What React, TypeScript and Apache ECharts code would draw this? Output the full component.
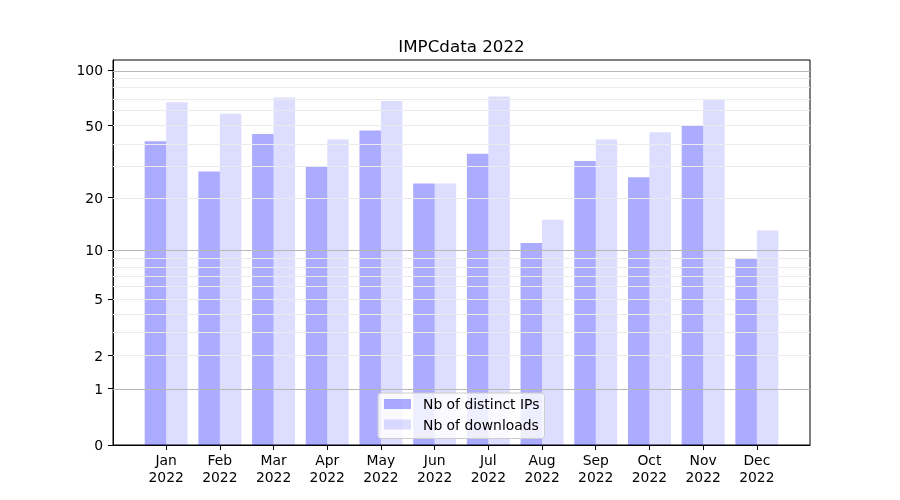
import React, { useEffect, useRef } from "react";
import * as echarts from "echarts";

const months = ["Jan", "Feb", "Mar", "Apr", "May", "Jun", "Jul", "Aug", "Sep", "Oct", "Nov", "Dec"];
const yearLabel = "2022";
const distinctIPs = [41, 28, 45, 30, 47, 24, 35, 11, 32, 26, 50, 9];
const downloads = [67, 58, 71, 42, 68, 24, 72, 15, 42, 46, 69, 13];
const yTickLabels = [0, 1, 2, 5, 10, 20, 50, 100];
const majorGrid = [1, 10, 100];
const minorGrid = [2, 3, 4, 5, 6, 7, 8, 9, 20, 30, 40, 50, 60, 70, 80, 90];
const titleText = "IMPCdata 2022";
const seriesNames = ["Nb of distinct IPs", "Nb of downloads"];

const tr = (v: number) => Math.log10(v + 1);
const FONT = "DejaVu Sans";

export default function App() {
  const ref = useRef<HTMLDivElement>(null);
  useEffect(() => {
    if (!ref.current) return;
    const chart = echarts.init(ref.current, undefined, { renderer: "svg" });
    const gridLines = [
      ...minorGrid.map((v) => ({ yAxis: tr(v), lineStyle: { color: "#ebebeb", width: 1, type: "solid" } })),
      ...majorGrid.map((v) => ({ yAxis: tr(v), lineStyle: { color: "#b8b8b8", width: 1, type: "solid" } })),
    ];
    const monthIdx = months.map((_, i) => i);
    chart.setOption({
      animation: false,
      textStyle: { fontFamily: FONT },
      graphic: [
        {
          type: "text",
          x: 461.5,
          y: 46,
          style: {
            text: titleText,
            fontFamily: FONT,
            fontSize: 16.7,
            fill: "#000",
            textAlign: "center",
            textVerticalAlign: "middle",
          },
        },
      ],
      grid: {
        left: 113,
        right: 90,
        top: 60,
        bottom: 55,
        show: true,
        borderColor: "#000",
        borderWidth: 1,
        backgroundColor: "transparent",
      },
      legend: {
        orient: "vertical",
        left: 378,
        top: 393,
        padding: [4, 5, 7, 6],
        itemWidth: 27,
        itemHeight: 10,
        itemGap: 6.5,
        icon: "rect",
        backgroundColor: "rgba(255,255,255,0.8)",
        borderColor: "#cccccc",
        borderWidth: 1,
        borderRadius: 3,
        data: seriesNames,
        textStyle: {
          fontFamily: FONT,
          fontSize: 13.9,
          color: "#000",
          lineHeight: 14,
          padding: [0, 0, 0, 7],
        },
      },
      xAxis: {
        type: "value",
        min: -0.99,
        max: 11.99,
        splitLine: { show: false },
        axisLine: { show: true, onZero: false, lineStyle: { color: "#000", width: 1 } },
        axisTick: {
          show: true,
          inside: false,
          length: 5,
          customValues: monthIdx,
          lineStyle: { color: "#000", width: 1 },
        },
        axisLabel: {
          customValues: monthIdx,
          formatter: (v: number) => `${months[Math.round(v)]}\n${yearLabel}`,
          fontFamily: FONT,
          fontSize: 13.9,
          lineHeight: 16.5,
          color: "#000",
          margin: 7,
        },
      },
      yAxis: {
        type: "value",
        min: 0,
        max: 2.0578,
        splitLine: { show: false },
        axisLine: { show: true, onZero: false, lineStyle: { color: "#000", width: 1 } },
        axisTick: {
          show: true,
          inside: false,
          length: 5,
          customValues: yTickLabels.map(tr),
          lineStyle: { color: "#000", width: 1 },
        },
        axisLabel: {
          customValues: yTickLabels.map(tr),
          formatter: (v: number) => String(Math.round(Math.pow(10, v) - 1)),
          fontFamily: FONT,
          fontSize: 13.9,
          color: "#000",
          margin: 10,
        },
      },
      series: [
        {
          type: "line",
          name: "grid",
          data: [],
          z: 1,
          silent: true,
          markLine: {
            silent: true,
            symbol: ["none", "none"],
            label: { show: false },
            animation: false,
            data: gridLines,
          },
        },
        {
          type: "bar",
          name: seriesNames[0],
          z: 2,
          barWidth: 21.48,
          barGap: "0%",
          itemStyle: { color: "rgba(0,0,255,0.33)" },
          data: distinctIPs.map((v, i) => [i, tr(v)]),
        },
        {
          type: "bar",
          name: seriesNames[1],
          z: 2,
          barWidth: 21.48,
          barGap: "0%",
          itemStyle: { color: "rgba(0,0,255,0.135)" },
          data: downloads.map((v, i) => [i, tr(v)]),
        },
      ],
    });
    return () => chart.dispose();
  }, []);
  return <div ref={ref} style={{ position: "fixed", left: 0, top: 0, width: 900, height: 500 }} />;
}
